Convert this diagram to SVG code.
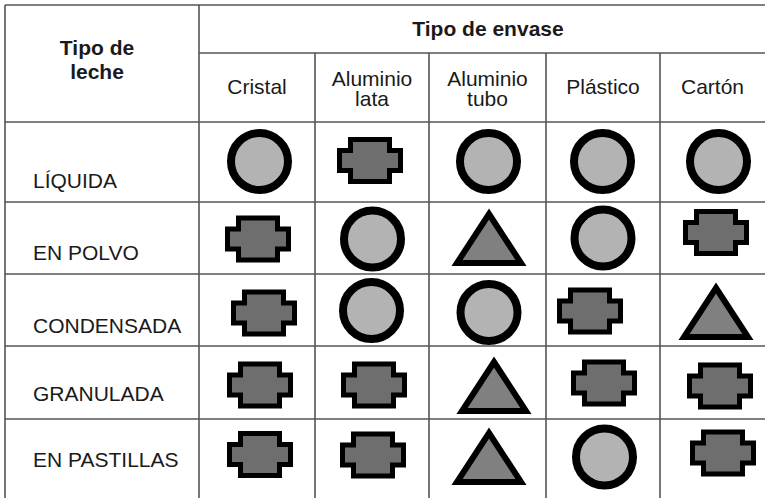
<svg xmlns="http://www.w3.org/2000/svg" xmlns:xlink="http://www.w3.org/1999/xlink" width="765" height="498" viewBox="0 0 765 498">
<style>
.grid{stroke:#555;stroke-width:1.6;fill:none}
.h{font-family:"Liberation Sans",Arial,sans-serif;font-size:21px;font-weight:bold;fill:#1a1a1a;text-anchor:middle}
.c{font-family:"Liberation Sans",Arial,sans-serif;font-size:21px;fill:#1a1a1a;text-anchor:middle}
.r{font-family:"Liberation Sans",Arial,sans-serif;font-size:21px;fill:#1a1a1a}
.circ{fill:#b3b3b3;stroke:#000;stroke-width:8}
.cross{fill:#6e6e6e;stroke:#000;stroke-width:5;stroke-linejoin:miter}
.tri{fill:#808080;stroke:#000;stroke-width:6;stroke-linejoin:miter}
</style>
<defs>
<g id="C"><circle class="circ" cx="0" cy="0" r="28.5"/></g>
<g id="X"><path class="cross" d="M-19.5,-21 H19.5 V-10 H30.5 V10 H19.5 V21 H-19.5 V10 H-30.5 V-10 H-19.5 Z"/></g>
<g id="T"><path class="tri" d="M0,-24 L32,25 L-32,25 Z"/></g>
</defs>
<rect width="765" height="498" fill="#fff"/>
<g id="grid">
<line class="grid" x1="5" y1="5" x2="765" y2="5"/>
<line class="grid" x1="199" y1="53" x2="765" y2="53"/>
<line class="grid" x1="5" y1="122" x2="765" y2="122"/>
<line class="grid" x1="5" y1="202" x2="765" y2="202"/>
<line class="grid" x1="5" y1="274" x2="765" y2="274"/>
<line class="grid" x1="5" y1="346" x2="765" y2="346"/>
<line class="grid" x1="5" y1="419" x2="765" y2="419"/>
<line class="grid" x1="5" y1="5" x2="5" y2="498"/>
<line class="grid" x1="199" y1="5" x2="199" y2="498"/>
<line class="grid" x1="315" y1="53" x2="315" y2="498"/>
<line class="grid" x1="429" y1="53" x2="429" y2="498"/>
<line class="grid" x1="546" y1="53" x2="546" y2="498"/>
<line class="grid" x1="660" y1="53" x2="660" y2="498"/>
</g>
<g id="header">
<text class="h" x="97" y="54.5">Tipo de</text>
<text class="h" x="97" y="78.5">leche</text>
<text class="h" x="488" y="35.5">Tipo de envase</text>
<text class="c" x="257" y="93.5">Cristal</text>
<text class="c" x="372" y="86">Aluminio</text>
<text class="c" x="372" y="106">lata</text>
<text class="c" x="487.5" y="86">Aluminio</text>
<text class="c" x="487.5" y="106">tubo</text>
<text class="c" x="603" y="93.5">Plástico</text>
<text class="c" x="712.5" y="93.5">Cartón</text>
</g>
<g id="row-liquida">
<text class="r" x="33" y="188">LÍQUIDA</text>
<use xlink:href="#C" x="259.5" y="161.5"/>
<use xlink:href="#X" x="370" y="160.5"/>
<use xlink:href="#C" x="488.5" y="161.5"/>
<use xlink:href="#C" x="602.5" y="161.5"/>
<use xlink:href="#C" x="718.5" y="161.5"/>
</g>
<g id="row-en-polvo">
<text class="r" x="33" y="260">EN POLVO</text>
<use xlink:href="#X" x="258" y="239"/>
<use xlink:href="#C" x="372.5" y="239"/>
<use xlink:href="#T" x="489" y="238"/>
<use xlink:href="#C" x="603" y="238"/>
<use xlink:href="#X" x="716" y="232.5"/>
</g>
<g id="row-condensada">
<text class="r" x="33" y="333">CONDENSADA</text>
<use xlink:href="#X" x="264" y="313"/>
<use xlink:href="#C" x="371.5" y="310.5"/>
<use xlink:href="#C" x="489" y="312.5"/>
<use xlink:href="#X" x="590" y="311"/>
<use xlink:href="#T" x="716" y="312"/>
</g>
<g id="row-granulada">
<text class="r" x="33" y="401">GRANULADA</text>
<use xlink:href="#X" x="260" y="385"/>
<use xlink:href="#X" x="374" y="385"/>
<use xlink:href="#T" x="494" y="386"/>
<use xlink:href="#X" x="604" y="383"/>
<use xlink:href="#X" x="720" y="386"/>
</g>
<g id="row-en-pastillas">
<text class="r" x="33" y="467">EN PASTILLAS</text>
<use xlink:href="#X" x="260" y="454.5"/>
<use xlink:href="#X" x="373" y="455"/>
<use xlink:href="#T" x="489" y="457"/>
<use xlink:href="#C" x="604.5" y="457"/>
<use xlink:href="#X" x="723" y="453"/>
</g>
</svg>
